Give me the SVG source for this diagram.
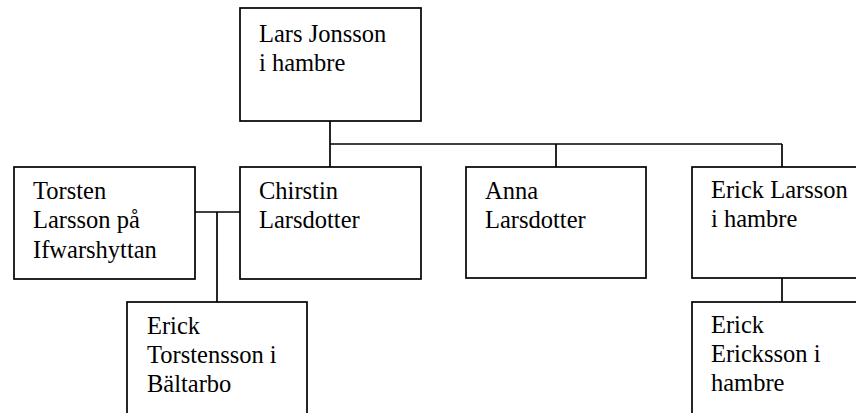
<svg xmlns="http://www.w3.org/2000/svg" width="856" height="413" viewBox="0 0 856 413">
<style>
rect.box{fill:#fff;stroke:#000;stroke-width:1.7}
.conn line{stroke:#000;stroke-width:1.7}
text{font-family:"Liberation Serif","Times New Roman",serif;font-size:24.5px;fill:#000}
</style>
<rect width="856" height="413" fill="#fff"/>
<g class="conn">
<line x1="330" y1="121" x2="330" y2="167"/>
<line x1="330" y1="144" x2="782" y2="144"/>
<line x1="556" y1="144" x2="556" y2="167"/>
<line x1="782" y1="144" x2="782" y2="167"/>
<line x1="195" y1="212" x2="240" y2="212"/>
<line x1="217" y1="212" x2="217" y2="302"/>
<line x1="782" y1="278" x2="782" y2="302"/>
</g>
<g id="lars">
<rect class="box" x="240" y="8" width="181" height="113"/>
<text x="259" y="42">Lars Jonsson</text>
<text x="259" y="71">i hambre</text>
</g>
<g id="torsten">
<rect class="box" x="14" y="167" width="181" height="112"/>
<text x="33" y="199">Torsten</text>
<text x="33" y="228">Larsson på</text>
<text x="33" y="258">Ifwarshyttan</text>
</g>
<g id="chirstin">
<rect class="box" x="240" y="167" width="181" height="112"/>
<text x="259" y="199">Chirstin</text>
<text x="259" y="228">Larsdotter</text>
</g>
<g id="anna">
<rect class="box" x="466" y="167" width="180" height="111"/>
<text x="485" y="199">Anna</text>
<text x="485" y="228">Larsdotter</text>
</g>
<g id="erick-larsson">
<rect class="box" x="692" y="167" width="181" height="111"/>
<text x="711" y="198">Erick Larsson</text>
<text x="711" y="227">i hambre</text>
</g>
<g id="erick-torstensson">
<rect class="box" x="127" y="302" width="180" height="115"/>
<text x="147" y="334">Erick</text>
<text x="147" y="363">Torstensson i</text>
<text x="147" y="392">Bältarbo</text>
</g>
<g id="erick-ericksson">
<rect class="box" x="692" y="302" width="181" height="115"/>
<text x="711" y="333">Erick</text>
<text x="711" y="362">Ericksson i</text>
<text x="711" y="391">hambre</text>
</g>
</svg>
